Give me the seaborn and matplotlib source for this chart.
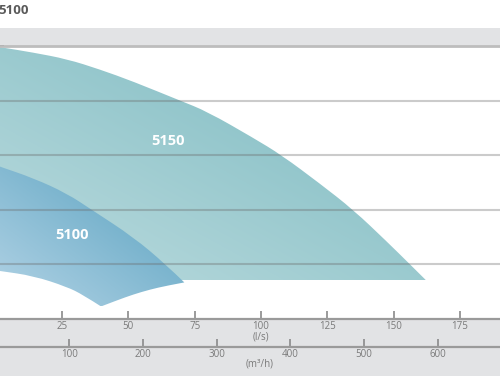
import numpy as np
import pandas as pd
import seaborn as sns
import matplotlib
matplotlib.use("Agg")
from matplotlib import pyplot as plt
from matplotlib.patches import PathPatch, Rectangle
from matplotlib.path import Path

# dane (przeplyw l/s, wysokosc - jednostki siatki)
top_5150_q = [0, 1.6, 14.1, 26.9, 39.3, 51.8, 69.5, 79.7, 97.0, 107.8, 122.2, 134.8, 147.4, 156.4, 162.2]
top_5150_h = [49.9, 49.8, 48.8, 47.6, 45.7, 43.5, 40.0, 38.0, 33.2, 30.0, 24.8, 20.0, 14.2, 9.9, 7.1]
bot_5150_q = [162.2, 60.0, 0]
bot_5150_h = [7.1, 7.1, 9.1]

top_5100_q = [0, 1.6, 14.2, 26.8, 36.2, 51.9, 64.1, 71.1]
top_5100_h = [28.2, 27.9, 25.8, 23.0, 20.0, 15.0, 10.0, 6.7]
right_5100_q = [71.1, 64.5, 58.2, 51.9, 45.6, 39.7]
right_5100_h = [6.7, 6.1, 5.4, 4.5, 3.4, 2.3]
left_5100_q = [39.7, 33.0, 26.8, 14.2, 1.6, 0]
left_5100_h = [2.3, 4.4, 5.9, 7.9, 8.8, 8.9]

ls_ticks = [25, 50, 75, 100, 125, 150, 175]
m3h_ticks = [100, 200, 300, 400, 500, 600]
grid_h = [10, 20, 30, 40, 50]

sns.set_theme(style="white")
plt.rcParams['font.family'] = ['Open Sans', 'DejaVu Sans']

W, H = 500, 380
fig = plt.figure(figsize=(5, 3.8), dpi=100)

def fy(py):  # piksel od gory -> ulamek figury
    return (H - py) / H

# szare pasy (gora i dol)
fig.patches.append(Rectangle((0, fy(46)), 1, fy(28) - fy(46), transform=fig.transFigure,
                             facecolor='#e2e3e5', edgecolor='none', zorder=-1))
fig.patches.append(Rectangle((0, fy(376)), 1, fy(319) - fy(376), transform=fig.transFigure,
                             facecolor='#e2e3e5', edgecolor='none', zorder=-1))

ax = fig.add_axes([0, fy(319), 1, fy(46) - fy(319)])
ax.set_facecolor('white')
ax.set_zorder(1)


def smooth_piece(q, h, first, straight=False):
    # wygladzony odcinek (krzywe kwadratowe przez srodki) albo lamana
    p = list(zip(q, h))
    verts = [p[0]]
    codes = [Path.MOVETO if first else Path.LINETO]
    if straight or len(p) == 2:
        verts += p[1:]; codes += [Path.LINETO] * (len(p) - 1)
        return verts, codes
    for i in range(1, len(p) - 2):
        mid = ((p[i][0] + p[i + 1][0]) / 2, (p[i][1] + p[i + 1][1]) / 2)
        verts += [p[i], mid]; codes += [Path.CURVE3, Path.CURVE3]
    verts += [p[-2], p[-1]]; codes += [Path.CURVE3, Path.CURVE3]
    return verts, codes


def shape_path(pieces):
    verts, codes = [], []
    for k, (q, h, straight) in enumerate(pieces):
        v, c = smooth_piece(q, h, k == 0, straight)
        verts += v; codes += c
    verts.append(verts[0]); codes.append(Path.CLOSEPOLY)
    return Path(verts, codes)


def grad_fill(path, c_light, c_dark, z):
    patch = PathPatch(path, facecolor='none', edgecolor='none', transform=ax.transData)
    ax.add_patch(patch)
    ext = path.get_extents()
    g = np.linspace(0, 1, 200)
    X, Y = np.meshgrid(g, g)
    Z = (X + Y) / 2
    cmap = sns.blend_palette([c_light, c_dark], as_cmap=True)
    im = ax.imshow(Z, extent=[ext.x0, ext.x1, ext.y0, ext.y1], origin='lower', cmap=cmap,
                   aspect='auto', zorder=z, interpolation='bilinear')
    im.set_clip_path(patch)


p5150 = shape_path([(top_5150_q, top_5150_h, False), (bot_5150_q, bot_5150_h, True)])
p5100 = shape_path([(top_5100_q, top_5100_h, False), (right_5100_q, right_5100_h, False),
                    (left_5100_q, left_5100_h, False)])

grad_fill(p5150, '#bddcdf', '#78b8bf', 1)
grad_fill(p5100, '#b4d4e6', '#549fbe', 2)

for gh in grid_h[:-1]:
    ax.axhline(gh, color='#6a6a6a', alpha=0.35, lw=1.5, zorder=3)

ax.set_xlim(1.62, 190.1)
ax.set_ylim(0, 50)

ax.text(64.9, 32.6, '5150', color='white', fontsize=10.5, fontweight='bold', ha='center', va='center', zorder=4)
ax.text(28.8, 15.4, '5100', color='white', fontsize=10.5, fontweight='bold', ha='center', va='center', zorder=4)

for s in ['left', 'right']:
    ax.spines[s].set_visible(False)
ax.spines['top'].set_color('#bdbdbd')
ax.spines['top'].set_linewidth(2)
ax.spines['bottom'].set_color('#9a9a9a')
ax.spines['bottom'].set_linewidth(1.6)

ax.set_yticks(grid_h)
ax.set_yticklabels([])
ax.tick_params(axis='y', direction='in', length=3, width=1.2, color='#555555', left=True)
ax.set_xticks(ls_ticks)
ax.set_xticklabels([str(t) for t in ls_ticks])
ax.tick_params(axis='x', direction='in', length=6, width=1.2, color='#8a8a8a', bottom=True,
               labelsize=7, labelcolor='#7a7a7a', pad=1.5)

# druga os m3/h
ax2 = fig.add_axes([0, fy(347), 1, 0.0001])
ax2.set_facecolor('none')
ax2.set_zorder(2)
ax2.set_xlim(1.62 * 3.6, 190.1 * 3.6)
for s in ['left', 'right', 'top']:
    ax2.spines[s].set_visible(False)
ax2.spines['bottom'].set_color('#9a9a9a')
ax2.spines['bottom'].set_linewidth(1.6)
ax2.set_yticks([])
ax2.set_xticks(m3h_ticks)
ax2.set_xticklabels([str(t) for t in m3h_ticks])
ax2.tick_params(axis='x', direction='in', length=6, width=1.2, color='#8a8a8a', bottom=True,
                labelsize=7, labelcolor='#7a7a7a', pad=1.5)

fig.text(261 / W, fy(337), '(l/s)', ha='center', va='center', fontsize=7, color='#7a7a7a')
fig.text(260 / W, fy(364.5), '(m³/h)', ha='center', va='center', fontsize=7, color='#7a7a7a')
fig.text(-0.003, fy(10), '5100', ha='left', va='center', fontsize=9.5, fontweight='bold', color='#5a5a5a')

fig.savefig('out.png', dpi=100)
